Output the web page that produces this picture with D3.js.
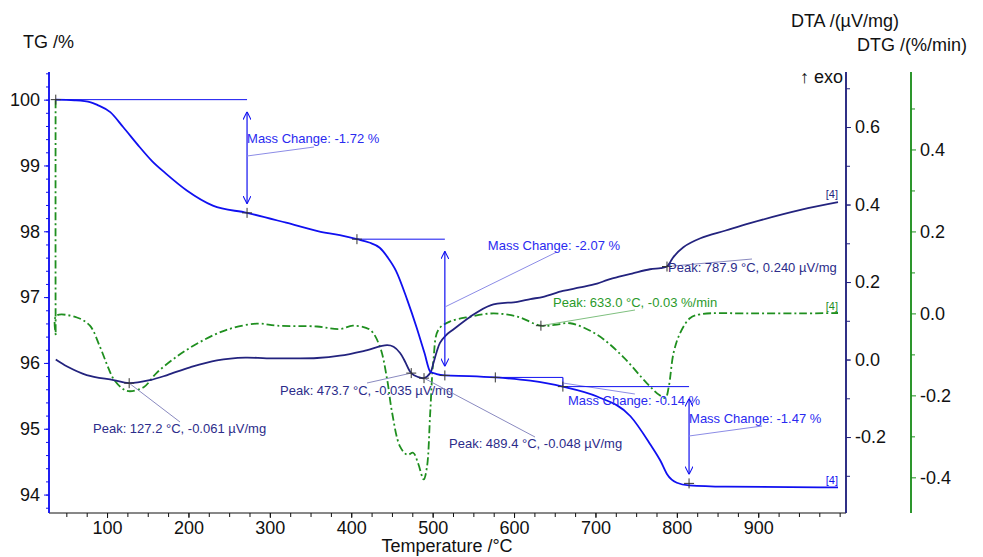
<!DOCTYPE html>
<html>
<head>
<meta charset="utf-8">
<script src="https://cdn.jsdelivr.net/npm/d3@7"></script>
<style>
  body { margin: 0; background: #fff; }
  svg { display: block; font-family: "Liberation Sans", Arial, sans-serif; }
</style>
</head>
<body>
<svg id="chart" width="983" height="557"></svg>
<script>
// TG curve (temperature °C, mass %)
const tgT = [37, 60, 80, 88, 104, 120, 140, 155, 172, 198, 230, 272, 320, 360, 386, 407, 422, 435, 445, 455, 469, 480, 490, 497, 505, 515, 545, 577, 620, 660, 702, 743, 767, 780, 788, 800, 815, 860, 998]
const tgV = [100.0, 99.99, 99.96, 99.92, 99.81, 99.58, 99.28, 99.07, 98.88, 98.62, 98.39, 98.28, 98.13, 98.0, 97.94, 97.88, 97.83, 97.75, 97.6, 97.4, 96.95, 96.55, 96.15, 95.87, 95.83, 95.81, 95.8, 95.78, 95.73, 95.64, 95.49, 95.19, 94.77, 94.51, 94.31, 94.18, 94.14, 94.12, 94.11]

// DTA curve (µV/mg)
const dtaT = [37, 51, 75, 108, 127, 153, 174, 202, 235, 270, 296, 330, 358, 386, 415, 444, 452, 460, 466, 473.7, 482, 489.4, 497, 501, 505, 509, 516, 525, 546, 571, 604, 620, 636, 660, 681, 702, 714, 722, 745, 767, 780, 787.9, 792, 796, 808, 829, 860, 890, 952, 998]
const dtaV = [0.0, -0.018, -0.04, -0.053, -0.061, -0.053, -0.04, -0.02, -0.002, 0.005, 0.003, 0.003, 0.004, 0.01, 0.022, 0.037, 0.033, 0.017, -0.005, -0.035, -0.045, -0.048, -0.035, -0.009, 0.02, 0.043, 0.062, 0.077, 0.11, 0.14, 0.149, 0.156, 0.162, 0.177, 0.186, 0.196, 0.205, 0.21, 0.222, 0.233, 0.236, 0.24, 0.252, 0.265, 0.29, 0.313, 0.333, 0.352, 0.386, 0.406]

// DTG curve (%/min)
const dtgT = [36.8, 37, 37.5, 63, 79, 91, 100, 108, 120, 128, 145, 161, 186, 214, 247, 284, 309, 358, 386, 402, 423, 435, 444, 450, 460, 469, 476, 482, 489, 493, 497, 501, 507, 521, 546, 575, 604, 633, 650, 669, 702, 734, 763, 779, 786, 790, 796, 804, 816, 829, 890, 952, 998]
const dtgV = [0.52, -0.053, -0.006, -0.01, -0.03, -0.08, -0.125, -0.16, -0.185, -0.19, -0.18, -0.145, -0.105, -0.07, -0.04, -0.025, -0.03, -0.032, -0.038, -0.03, -0.04, -0.08, -0.16, -0.24, -0.325, -0.345, -0.34, -0.365, -0.405, -0.375, -0.243, -0.113, -0.04, -0.02, -0.008, 0.0, -0.008, -0.03, -0.028, -0.024, -0.052, -0.106, -0.17, -0.2, -0.206, -0.18, -0.096, -0.048, -0.012, -0.002, 0.0, 0.0, 0.001]

// axis ticks
const xTicks = [100, 200, 300, 400, 500, 600, 700, 800, 900]
const tgTicks = [94, 95, 96, 97, 98, 99, 100]
const dtaTicks = [-0.2, 0.0, 0.2, 0.4, 0.6]
const dtgTicks = [-0.4, -0.2, 0.0, 0.2, 0.4]

// mass change steps: [start T, arrow T, start %, end %, label]
const massSteps = [
  [37, 272, 100.0, 98.28, "Mass Change: -1.72 %"],
  [407, 515, 97.88, 95.81, "Mass Change: -2.07 %"],
  [577, 660, 95.78, 95.64, "Mass Change: -0.14 %"],
  [660, 815, 95.64, 94.17, "Mass Change: -1.47 %"]
]
// peaks: [T, value, curve, label]
const peaks = [
  [127.2, -0.061, "dta", "Peak: 127.2 °C, -0.061 µV/mg"],
  [473.7, -0.035, "dta", "Peak: 473.7 °C, -0.035 µV/mg"],
  [489.4, -0.048, "dta", "Peak: 489.4 °C, -0.048 µV/mg"],
  [633.0, -0.03, "dtg", "Peak: 633.0 °C, -0.03 %/min"],
  [787.9, 0.240, "dta", "Peak: 787.9 °C, 0.240 µV/mg"]
]

// label layout (pixel offsets from anchor)
const massLayout = [
  { tx: 0, ty: 143, l1: 156, lx2: 67, ly2: 147 },
  { tx: 43, ty: 250, l1: 307, lx2: 112, ly2: 252 },
  { tx: 5, ty: 405, l1: 383, lx2: 72, ly2: 394 },
  { tx: 0, ty: 423, l1: 436, lx2: 73, ly2: 426 }
]
const peakLayout = [
  { tx: 93, ty: 433, lx: 180, ly: 422 },
  { tx: 280, ty: 395, lx: 367, ly: 383 },
  { tx: 449, ty: 448, lx: 535, ly: 437 },
  { tx: 553, ty: 307, lx: 635, ly: 310 },
  { tx: 668, ty: 272, lx: 752, ly: 259 }
]

const TG_C = "#1010f0", DTA_C = "#23237e", DTG_C = "#1f8f1f"
const svg = d3.select("#chart")
const plotTop = 72, plotBottom = 513, plotLeft = 49, plotRight = 846, plotRight2 = 911

const x = d3.scaleLinear().domain([28.7, 1007.8]).range([plotLeft, plotRight])
const yTG = d3.scaleLinear().domain([93.72, 100.42]).range([plotBottom, plotTop])
const yDTA = d3.scaleLinear().domain([-0.396, 0.742]).range([plotBottom, plotTop])
const yDTG = d3.scaleLinear().domain([-0.487, 0.589]).range([plotBottom, plotTop])

// axes
const fmt1 = d => d3.format(".1f")(d).replace("−", "-")
const styleText = g => g.selectAll("text").attr("font-size", 18).attr("fill", "#111").attr("font-family", null)

const xAxis = g => g
  .attr("transform", `translate(0,${plotBottom})`)
  .call(d3.axisBottom(x).tickValues(d3.range(50, 1001, 25)).tickSize(4).tickFormat(""))
  .call(g => g.select(".domain").remove())
  .call(g => g.append("g").call(d3.axisBottom(x).tickValues(xTicks).tickSize(5).tickSizeOuter(0).tickPadding(3)))
  .call(g => g.selectAll(".domain").remove())
  .call(g => g.selectAll("line").attr("stroke", "#111"))
  .call(styleText)
  .call(g => g.append("line").attr("x1", plotLeft).attr("x2", plotRight).attr("stroke", "#111"))

const sideAxis = (axisFn, scale, minor, major, color, fmt) => g => g
  .call(axisFn(scale).tickValues(minor).tickSize(axisFn === d3.axisLeft ? 3 : 4).tickFormat(""))
  .call(g => g.append("g").call(axisFn(scale).tickValues(major).tickSize(5).tickPadding(4).tickFormat(fmt)))
  .call(g => g.selectAll(".domain").attr("stroke", color).attr("stroke-width", 1.5).attr("d", `M0,${plotTop}V${plotBottom}`))
  .call(g => g.selectAll("line").attr("stroke", color))
  .call(styleText)

svg.append("g").call(xAxis)
svg.append("g").attr("transform", `translate(${plotLeft},0)`)
  .call(sideAxis(d3.axisLeft, yTG, d3.range(93.8, 100.41, 0.2), tgTicks, TG_C, d3.format("d")))
svg.append("g").attr("transform", `translate(${plotRight},0)`)
  .call(sideAxis(d3.axisRight, yDTA, d3.range(-0.3, 0.75, 0.1), dtaTicks, DTA_C, fmt1))
svg.append("g").attr("transform", `translate(${plotRight2},0)`)
  .call(sideAxis(d3.axisRight, yDTG, d3.range(-0.3, 0.55, 0.2), dtgTicks, DTG_C, fmt1))

// axis titles
const title = (tx, ty, s, anchor) => svg.append("text").attr("x", tx).attr("y", ty)
  .attr("font-size", 18).attr("fill", "#111").attr("text-anchor", anchor).text(s)
title(23, 48, "TG /%", "start")
title(899, 27, "DTA /(µV/mg)", "end")
title(967, 51, "DTG /(%/min)", "end")
title(843, 83, "↑ exo", "end")
title(447, 552, "Temperature /°C", "middle")

// curves
const zip = (a, b) => a.map((d, i) => [d, b[i]])
const curve = d3.curveCatmullRom.alpha(0.5)
svg.append("path").datum(zip(dtgT, dtgV))
  .attr("fill", "none").attr("stroke", DTG_C).attr("stroke-width", 1.8)
  .attr("stroke-dasharray", "8,3,2,3")
  .attr("d", d3.line().x(d => x(d[0])).y(d => yDTG(d[1])).curve(curve))
svg.append("path").datum(zip(dtaT, dtaV))
  .attr("fill", "none").attr("stroke", DTA_C).attr("stroke-width", 1.8)
  .attr("d", d3.line().x(d => x(d[0])).y(d => yDTA(d[1])).curve(curve))
svg.append("path").datum(zip(tgT, tgV))
  .attr("fill", "none").attr("stroke", TG_C).attr("stroke-width", 1.8)
  .attr("d", d3.line().x(d => x(d[0])).y(d => yTG(d[1])).curve(d3.curveMonotoneX))

// end labels
const endLabel = (px, py, c) => svg.append("text").attr("x", px).attr("y", py)
  .attr("font-size", 11).attr("fill", c).attr("text-anchor", "end").text("[4]")
endLabel(x(998), yTG(94.11) - 3, TG_C)
endLabel(x(998), yDTA(0.406) - 4, DTA_C)
endLabel(x(998), yDTG(0.001) - 3, DTG_C)

// arrow marker
svg.append("defs").append("marker").attr("id", "arr").attr("viewBox", "0 0 10 10")
  .attr("refX", 10).attr("refY", 5).attr("markerWidth", 8).attr("markerHeight", 8)
  .attr("orient", "auto-start-reverse").attr("markerUnits", "userSpaceOnUse")
  .append("path").attr("d", "M0,0L10,5L0,10").attr("fill", "none").attr("stroke", TG_C).attr("stroke-width", 1.3)

const cross = (cx, cy) => svg.append("path")
  .attr("d", `M${cx - 5},${cy}H${cx + 5}M${cx},${cy - 5}V${cy + 5}`)
  .attr("stroke", "#333").attr("stroke-width", 1)

// mass change annotations
massSteps.forEach((s, i) => {
  const [t0, t1, v0, v1, label] = s
  const L = massLayout[i]
  const ax = x(t1)
  svg.append("line").attr("x1", x(t0)).attr("x2", ax).attr("y1", yTG(v0)).attr("y2", yTG(v0))
    .attr("stroke", TG_C).attr("stroke-width", 1)
  const big = yTG(v1) - yTG(v0) > 30
  svg.append("line").attr("x1", ax).attr("x2", ax)
    .attr("y1", yTG(v0) + (big ? 12 : 0)).attr("y2", yTG(v1) - (big ? 9 : 0))
    .attr("stroke", TG_C).attr("stroke-width", 1.2)
    .attr("marker-start", big ? "url(#arr)" : null)
    .attr("marker-end", big ? "url(#arr)" : null)
  svg.append("line").attr("x1", ax).attr("y1", L.l1).attr("x2", ax + L.lx2).attr("y2", L.ly2)
    .attr("stroke", "#8c8ce6").attr("stroke-width", 1)
  svg.append("text").attr("x", ax + L.tx).attr("y", L.ty)
    .attr("font-size", 13).attr("fill", "#2a2af0").text(label)
})

// markers on TG
const tgMarks = [[37, 100.0], [272, 98.28], [407, 97.88], [515, 95.81], [577, 95.78], [660, 95.64], [815, 94.17]]
tgMarks.forEach(d => cross(x(d[0]), yTG(d[1])))

// peak annotations
peaks.forEach((p, i) => {
  const [t, v, which, label] = p
  const L = peakLayout[i]
  const py = which === "dta" ? yDTA(v) : yDTG(v)
  svg.append("line").attr("x1", x(t)).attr("y1", py).attr("x2", L.lx).attr("y2", L.ly)
    .attr("stroke", which === "dta" ? "#8a8ac0" : "#7fc07f").attr("stroke-width", 1)
  cross(x(t), py)
  svg.append("text").attr("x", L.tx).attr("y", L.ty)
    .attr("font-size", 13).attr("fill", which === "dta" ? "#2c2c8a" : "#2a9a2a").text(label)
})
</script>
</body>
</html>
